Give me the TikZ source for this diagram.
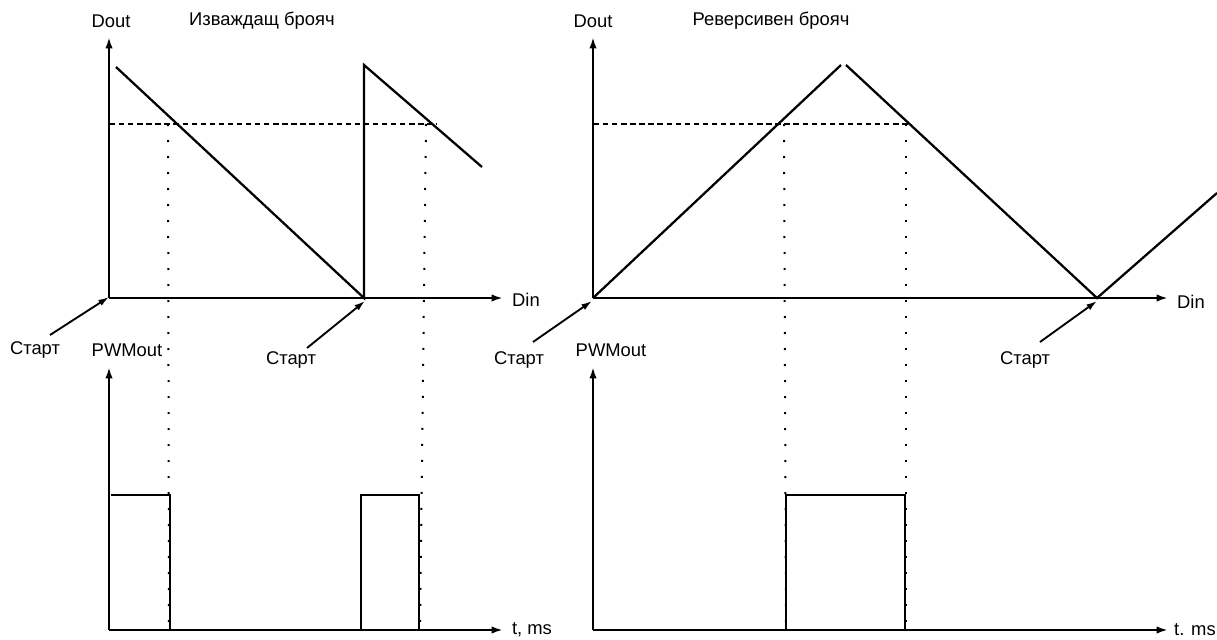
\documentclass[tikz,border=0pt]{standalone}
\usepackage{fontspec}
\setmainfont{Liberation Sans}
\usetikzlibrary{arrows.meta}
\newcommand{\drawaxis}{\draw[line width=1.6pt, -{Latex[length=8.5pt,width=5.5pt]}]}
\newcommand{\drawstart}{\draw[line width=1.4pt, -{Latex[length=8pt,width=5pt]}]}
\tikzset{
    signal/.style={line width=1.7pt, line join=miter},
    level/.style={line width=1.5pt, dash pattern=on 4pt off 2.8pt},
    projection/.style={line width=1.5pt, dash pattern=on 1.5pt off 10.5pt},
}

\begin{document}
\begin{tikzpicture}[x=0.75pt, y=-0.75pt, font=\fontsize{13.8}{16}\selectfont]
    \useasboundingbox (0,0) rectangle (1217,639);

    % Draw axes
    \coordinate (o1) at (109,298);
    \coordinate (dout1) at (109,37);
    \coordinate (din1) at (503,298);
    \coordinate (p1) at (109,630);
    \coordinate (pwm1) at (109,367);
    \coordinate (t1) at (503,630);
    \coordinate (o2) at (593,298);
    \coordinate (dout2) at (593,37);
    \coordinate (din2) at (1168,298);
    \coordinate (p2) at (593,630);
    \coordinate (pwm2) at (593,367);
    \coordinate (t2) at (1168,630);

    \drawaxis (o1) -- (dout1);
    \drawaxis (o1) -- (din1);
    \drawaxis (p1) -- (pwm1);
    \drawaxis (p1) -- (t1);
    \drawaxis (o2) -- (dout2);
    \drawaxis (o2) -- (din2);
    \drawaxis (p2) -- (pwm2);
    \drawaxis (p2) -- (t2);

    % Draw counters
    \coordinate (r1) at (364,298);
    \coordinate (r2) at (1097,298);
    \draw[signal] (116,67) -- (r1) -- (364,65) -- (482,167);
    \draw[signal] (o2) -- (841,65);
    \draw[signal] (846,65) -- (r2) -- (1217,193);

    % Draw threshold and projections
    \draw[level] (110,124) -- (437,124);
    \draw[level] (594,124) -- (908,124);
    \draw[projection] (168,124) -- (169,630);
    \draw[projection] (426,124) -- (420,630);
    \draw[projection] (784,124) -- (786,630);
    \draw[projection] (906,124) -- (906,630);

    % Draw PWM pulses
    \draw[signal] (111,495) -- (170,495) -- (170,630);
    \draw[signal] (361,630) -- (361,495) -- (419,495) -- (419,630);
    \draw[signal] (786,630) -- (786,495) -- (905,495) -- (905,630);

    % Start markers
    \node (start1) at (35,350) {Старт};
    \node (start2) at (291,360) {Старт};
    \node (start3) at (519,360) {Старт};
    \node (start4) at (1025,360) {Старт};
    \coordinate (s1) at (50,335);
    \coordinate (s2) at (307,348);
    \coordinate (s3) at (533,342);
    \coordinate (s4) at (1040,342);
    \drawstart (s1) -- (109,297);
    \drawstart (s2) -- (365,301);
    \drawstart (s3) -- (592,301);
    \drawstart (s4) -- (1097,301);

    % Axis labels
    \node (doutlabel1) at (111,21) {Dout};
    \node (title1) at (262,21) {Изваждащ брояч};
    \node (dinlabel1) at (526,300) {Din};
    \node (pwmlabel1) at (127,350) {PWMout};
    \node (tlabel1) at (532,630) {t, ms};
    \node (doutlabel2) at (593,21) {Dout};
    \node (title2) at (771,21) {Реверсивен брояч};
    \node (dinlabel2) at (1191,302) {Din};
    \node (pwmlabel2) at (611,350) {PWMout};
    \node[anchor=east, inner sep=0pt] (tlabel2) at (1216,630) {t. ms};
\end{tikzpicture}
\end{document}
